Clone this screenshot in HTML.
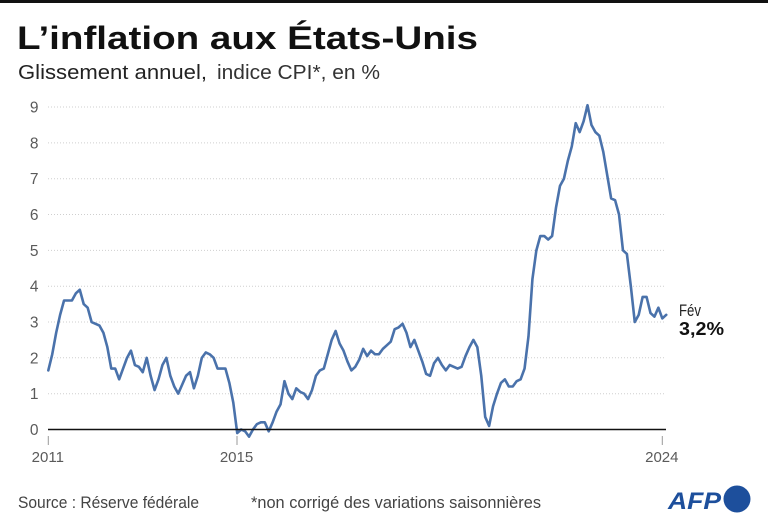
<!DOCTYPE html>
<html>
<head>
<meta charset="utf-8">
<style>
  html,body{margin:0;padding:0;background:#fff;}
  body{width:768px;height:524px;overflow:hidden;}
  svg{display:block;}
  text{font-family:"Liberation Sans",sans-serif;}
</style>
</head>
<body>
<svg width="768" height="524" viewBox="0 0 768 524" xmlns="http://www.w3.org/2000/svg">
  <rect x="0" y="0" width="768" height="524" fill="#fff"/>
  <rect x="0" y="0" width="768" height="3" fill="#111"/>

  <!-- Title -->
  <text x="17" y="49" font-size="32.5" font-weight="bold" fill="#111" textLength="461" lengthAdjust="spacingAndGlyphs">L’inflation aux États-Unis</text>
  <!-- Subtitle -->
  <text x="18" y="79" font-size="20" fill="#222" textLength="189" lengthAdjust="spacingAndGlyphs">Glissement annuel,</text>
  <text x="217" y="79" font-size="20" fill="#333" textLength="163" lengthAdjust="spacingAndGlyphs">indice CPI*, en %</text>

  <!-- Gridlines -->
  <g stroke="#cfcfcf" stroke-width="1" stroke-dasharray="1 2">
    <line x1="48" y1="393.7" x2="664" y2="393.7"/>
    <line x1="48" y1="357.8" x2="664" y2="357.8"/>
    <line x1="48" y1="322.0" x2="664" y2="322.0"/>
    <line x1="48" y1="286.2" x2="664" y2="286.2"/>
    <line x1="48" y1="250.4" x2="664" y2="250.4"/>
    <line x1="48" y1="214.5" x2="664" y2="214.5"/>
    <line x1="48" y1="178.7" x2="664" y2="178.7"/>
    <line x1="48" y1="142.9" x2="664" y2="142.9"/>
    <line x1="48" y1="107.0" x2="664" y2="107.0"/>
  </g>

  <!-- Y labels -->
  <g font-size="15.5" fill="#5a5a5a" text-anchor="end">
    <text x="38.5" y="435">0</text>
    <text x="38.5" y="399.2">1</text>
    <text x="38.5" y="363.3">2</text>
    <text x="38.5" y="327.5">3</text>
    <text x="38.5" y="291.7">4</text>
    <text x="38.5" y="255.9">5</text>
    <text x="38.5" y="220">6</text>
    <text x="38.5" y="184.2">7</text>
    <text x="38.5" y="148.4">8</text>
    <text x="38.5" y="112.5">9</text>
  </g>

  <!-- Ticks -->
  <g stroke="#999" stroke-width="1">
    <line x1="48.3" y1="436" x2="48.3" y2="445"/>
    <line x1="237" y1="436" x2="237" y2="445"/>
    <line x1="662.3" y1="436" x2="662.3" y2="445"/>
  </g>
  <g font-size="15" fill="#5a5a5a" text-anchor="middle">
    <text x="47.8" y="462">2011</text>
    <text x="236.5" y="462">2015</text>
    <text x="661.8" y="462">2024</text>
  </g>

  <!-- Series -->
  <g transform="translate(48.3,429.5) scale(3.936,-35.83)">
    <polyline fill="none" stroke="#4a72ab" stroke-width="2.6" stroke-linejoin="round" stroke-linecap="round" vector-effect="non-scaling-stroke"
      points="0,1.65 1,2.1 2,2.7 3,3.2 4,3.6 5,3.6 6,3.6 7,3.8 8,3.9 9,3.5 10,3.4 11,3.0
      12,2.95 13,2.9 14,2.7 15,2.3 16,1.7 17,1.7 18,1.4 19,1.7 20,2.0 21,2.2 22,1.8 23,1.75
      24,1.6 25,2.0 26,1.5 27,1.1 28,1.4 29,1.8 30,2.0 31,1.5 32,1.2 33,1.0 34,1.25 35,1.5
      36,1.6 37,1.15 38,1.5 39,2.0 40,2.15 41,2.1 42,2.0 43,1.7 44,1.7 45,1.7 46,1.3 47,0.75
      48,-0.1 49,0.0 50,-0.05 51,-0.2 52,0.0 53,0.15 54,0.2 55,0.2 56,-0.05 57,0.2 58,0.5 59,0.7
      60,1.35 61,1.0 62,0.85 63,1.15 64,1.05 65,1.0 66,0.85 67,1.1 68,1.5 69,1.65 70,1.7 71,2.1
      72,2.5 73,2.75 74,2.4 75,2.2 76,1.9 77,1.65 78,1.75 79,1.95 80,2.25 81,2.05 82,2.2 83,2.1
      84,2.1 85,2.25 86,2.35 87,2.45 88,2.8 89,2.85 90,2.95 91,2.7 92,2.3 93,2.5 94,2.2 95,1.9
      96,1.55 97,1.5 98,1.85 99,2.0 100,1.8 101,1.65 102,1.8 103,1.75 104,1.7 105,1.75 106,2.05 107,2.3
      108,2.5 109,2.3 110,1.5 111,0.35 112,0.1 113,0.65 114,1.0 115,1.3 116,1.4 117,1.2 118,1.2 119,1.35
      120,1.4 121,1.7 122,2.6 123,4.2 124,5.0 125,5.4 126,5.4 127,5.3 128,5.4 129,6.2 130,6.8 131,7.0
      132,7.5 133,7.9 134,8.55 135,8.3 136,8.6 137,9.05 138,8.5 139,8.3 140,8.2 141,7.75 142,7.1 143,6.45
      144,6.4 145,6.0 146,5.0 147,4.9 148,4.0 149,3.0 150,3.2 151,3.7 152,3.7 153,3.25 154,3.15 155,3.4
      156,3.1 157,3.2"/>
  </g>

  <!-- Zero baseline -->
  <line x1="48" y1="429.5" x2="666" y2="429.5" stroke="#111" stroke-width="1.4"/>

  <!-- End label -->
  <text x="679" y="316" font-size="16.5" fill="#222" textLength="22" lengthAdjust="spacingAndGlyphs">Fév</text>
  <text x="679" y="335" font-size="18" font-weight="bold" fill="#111" textLength="45" lengthAdjust="spacingAndGlyphs">3,2%</text>

  <!-- Footer -->
  <text x="18" y="508" font-size="16.5" fill="#444" textLength="181" lengthAdjust="spacingAndGlyphs">Source : Réserve fédérale</text>
  <text x="251" y="508" font-size="16.5" fill="#444" textLength="290" lengthAdjust="spacingAndGlyphs">*non corrigé des variations saisonnières</text>

  <!-- AFP logo -->
  <text x="668" y="509" font-size="24" font-weight="bold" font-style="italic" fill="#1d4f9c" textLength="53" lengthAdjust="spacingAndGlyphs">AFP</text>
  <circle cx="737" cy="499" r="13.5" fill="#1d4f9c"/>
</svg>
</body>
</html>
